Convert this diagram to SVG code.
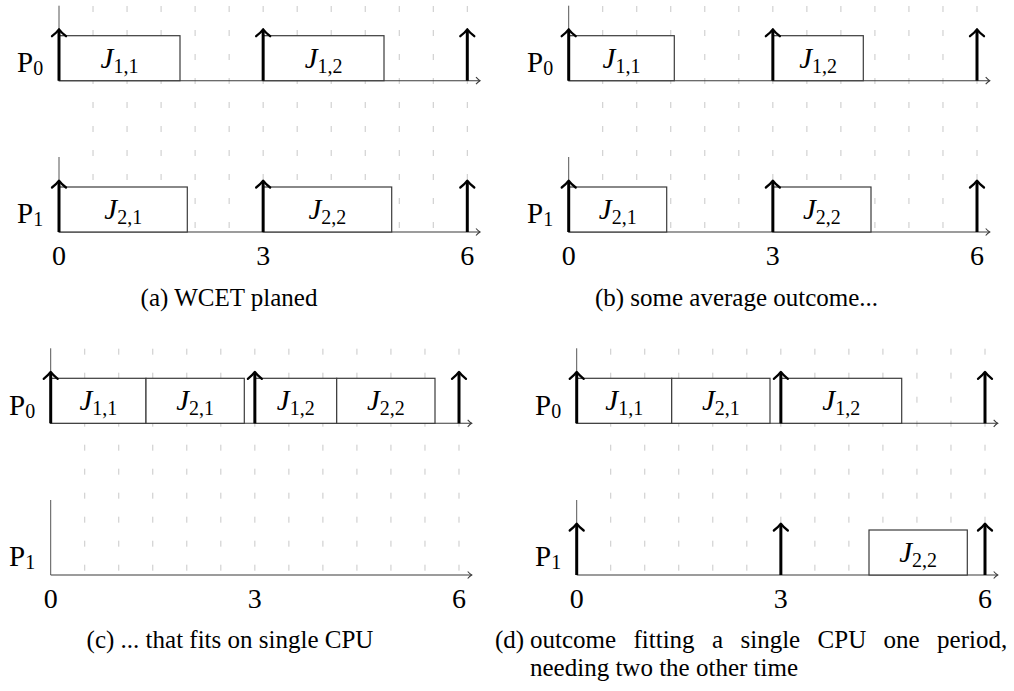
<svg xmlns="http://www.w3.org/2000/svg" xmlns:xlink="http://www.w3.org/1999/xlink" width="1014" height="691" viewBox="0 0 1014 691">
<style>
.grid{fill:none;stroke:#c8c8c8;stroke-width:1;stroke-dasharray:6 18}
.axis{fill:none;stroke:#3a3a3a;stroke-width:1.1}
.yaxis{fill:none;stroke:#555;stroke-width:1}
.job{fill:#fff;stroke:#3a3a3a;stroke-width:1.2}
.shaft{fill:none;stroke:#000;stroke-width:3}
.head{fill:none;stroke:#000;stroke-width:2.3;stroke-linecap:round;stroke-linejoin:round}
.lbl{font-family:"Liberation Serif",serif;font-size:29px;fill:#000}
.jl{font-family:"Liberation Serif",serif;font-size:29px;fill:#000;text-anchor:middle}
.sub{font-size:20px;font-style:normal}
.num{font-family:"Liberation Serif",serif;font-size:28px;fill:#000;text-anchor:middle}
.cap{font-family:"Liberation Serif",serif;font-size:25px;fill:#000}
</style>
<defs>
<path id="grid" class="grid" d="M34.03 0V226M68.05 0V226M102.08 0V226M136.1 0V226M170.13 0V226M204.15 0V226M238.18 0V226M272.2 0V226M306.23 0V226M340.25 0V226M374.28 0V226M408.3 0V226"/>
<g id="ax">
<path class="yaxis" d="M0 0V-75"/>
<path class="axis" d="M0 0H421"/>
<path class="axis" d="M417 -3.5Q419.5 -0.8 421 0Q419.5 0.8 417 3.5"/>
</g>
<g id="rel">
<path class="shaft" d="M0 0V-50"/>
<path class="head" d="M-7 -44.5Q-2 -48.5 0 -51.4Q2 -48.5 7 -44.5"/>
</g>
</defs>

<g id="grids">
<use xlink:href="#grid" x="59" y="6"/>
<use xlink:href="#grid" x="568.7" y="6"/>
<use xlink:href="#grid" x="50.7" y="348.7"/>
<use xlink:href="#grid" x="576.7" y="348.7"/>
</g>

<g id="axes">
<use xlink:href="#ax" x="59" y="80.7"/>
<use xlink:href="#ax" x="59" y="232"/>
<use xlink:href="#ax" x="568.7" y="80.7"/>
<use xlink:href="#ax" x="568.7" y="232"/>
<use xlink:href="#ax" x="50.7" y="423.3"/>
<use xlink:href="#ax" x="50.7" y="575"/>
<use xlink:href="#ax" x="576.7" y="423.3"/>
<use xlink:href="#ax" x="576.7" y="575"/>
</g>

<g id="panel-a">
<text class="lbl" x="17" y="72">P<tspan class="sub" dy="3">0</tspan></text>
<text class="lbl" x="17" y="223.3">P<tspan class="sub" dy="3">1</tspan></text>
<g id="a-J11"><rect class="job" x="59" y="35.7" width="121" height="45"/><text class="jl" x="119.5" y="67.7"><tspan font-style="italic">J</tspan><tspan class="sub" dy="5">1,1</tspan></text></g>
<g id="a-J12"><rect class="job" x="263.15" y="35.7" width="120.85" height="45"/><text class="jl" x="323.6" y="67.7"><tspan font-style="italic">J</tspan><tspan class="sub" dy="5">1,2</tspan></text></g>
<g id="a-J21"><rect class="job" x="59" y="187" width="128.3" height="45"/><text class="jl" x="123.2" y="219"><tspan font-style="italic">J</tspan><tspan class="sub" dy="5">2,1</tspan></text></g>
<g id="a-J22"><rect class="job" x="263.15" y="187" width="128.55" height="45"/><text class="jl" x="327.4" y="219"><tspan font-style="italic">J</tspan><tspan class="sub" dy="5">2,2</tspan></text></g>
<text class="num" x="59" y="265">0</text>
<text class="num" x="263.15" y="265">3</text>
<text class="num" x="467.3" y="265">6</text>
<text class="cap" x="229" y="306" text-anchor="middle">(a) WCET planed</text>
</g>

<g id="panel-b">
<text class="lbl" x="527" y="72">P<tspan class="sub" dy="3">0</tspan></text>
<text class="lbl" x="527" y="223.3">P<tspan class="sub" dy="3">1</tspan></text>
<g id="b-J11"><rect class="job" x="568.7" y="35.7" width="105.6" height="45"/><text class="jl" x="621.5" y="67.7"><tspan font-style="italic">J</tspan><tspan class="sub" dy="5">1,1</tspan></text></g>
<g id="b-J12"><rect class="job" x="772.85" y="35.7" width="90.45" height="45"/><text class="jl" x="818.1" y="67.7"><tspan font-style="italic">J</tspan><tspan class="sub" dy="5">1,2</tspan></text></g>
<g id="b-J21"><rect class="job" x="568.7" y="187" width="98" height="45"/><text class="jl" x="617.7" y="219"><tspan font-style="italic">J</tspan><tspan class="sub" dy="5">2,1</tspan></text></g>
<g id="b-J22"><rect class="job" x="772.85" y="187" width="98.15" height="45"/><text class="jl" x="821.9" y="219"><tspan font-style="italic">J</tspan><tspan class="sub" dy="5">2,2</tspan></text></g>
<text class="num" x="568.7" y="265">0</text>
<text class="num" x="772.85" y="265">3</text>
<text class="num" x="977" y="265">6</text>
<text class="cap" x="736.5" y="306" text-anchor="middle">(b) some average outcome...</text>
</g>

<g id="panel-c">
<text class="lbl" x="9" y="414.6">P<tspan class="sub" dy="3">0</tspan></text>
<text class="lbl" x="9" y="566.3">P<tspan class="sub" dy="3">1</tspan></text>
<g id="c-J11"><rect class="job" x="50.7" y="378.3" width="95.3" height="45"/><text class="jl" x="98.35" y="410.3"><tspan font-style="italic">J</tspan><tspan class="sub" dy="5">1,1</tspan></text></g>
<g id="c-J21"><rect class="job" x="146" y="378.3" width="98.3" height="45"/><text class="jl" x="195.15" y="410.3"><tspan font-style="italic">J</tspan><tspan class="sub" dy="5">2,1</tspan></text></g>
<g id="c-J12"><rect class="job" x="254.85" y="378.3" width="81.85" height="45"/><text class="jl" x="295.8" y="410.3"><tspan font-style="italic">J</tspan><tspan class="sub" dy="5">1,2</tspan></text></g>
<g id="c-J22"><rect class="job" x="336.7" y="378.3" width="98.3" height="45"/><text class="jl" x="385.85" y="410.3"><tspan font-style="italic">J</tspan><tspan class="sub" dy="5">2,2</tspan></text></g>
<text class="num" x="50.7" y="607.7">0</text>
<text class="num" x="254.85" y="607.7">3</text>
<text class="num" x="459" y="607.7">6</text>
<text class="cap" x="230" y="647.5" text-anchor="middle">(c) ... that fits on single CPU</text>
</g>

<g id="panel-d">
<text class="lbl" x="535" y="414.6">P<tspan class="sub" dy="3">0</tspan></text>
<text class="lbl" x="535" y="566.3">P<tspan class="sub" dy="3">1</tspan></text>
<g id="d-J11"><rect class="job" x="576.7" y="378.3" width="95" height="45"/><text class="jl" x="624.2" y="410.3"><tspan font-style="italic">J</tspan><tspan class="sub" dy="5">1,1</tspan></text></g>
<g id="d-J21"><rect class="job" x="671.7" y="378.3" width="98.3" height="45"/><text class="jl" x="720.85" y="410.3"><tspan font-style="italic">J</tspan><tspan class="sub" dy="5">2,1</tspan></text></g>
<g id="d-J12"><rect class="job" x="780.85" y="378.3" width="120.85" height="45"/><text class="jl" x="841.3" y="410.3"><tspan font-style="italic">J</tspan><tspan class="sub" dy="5">1,2</tspan></text></g>
<g id="d-J22"><rect class="job" x="869" y="530" width="98.3" height="45"/><text class="jl" x="918.15" y="562"><tspan font-style="italic">J</tspan><tspan class="sub" dy="5">2,2</tspan></text></g>
<text class="num" x="576.7" y="607.7">0</text>
<text class="num" x="780.85" y="607.7">3</text>
<text class="num" x="985" y="607.7">6</text>
<text class="cap" y="647.5"><tspan x="495">(d)</tspan><tspan x="530">outcome</tspan><tspan x="633.5">fitting</tspan><tspan x="712">a</tspan><tspan x="740.5">single</tspan><tspan x="817.6">CPU</tspan><tspan x="883.6">one</tspan><tspan x="937.1">period,</tspan></text>
<text class="cap" x="530" y="675.5">needing two the other time</text>
</g>

<g id="connectors">
<use xlink:href="#rel" x="59" y="80.7"/>
<use xlink:href="#rel" x="263.15" y="80.7"/>
<use xlink:href="#rel" x="467.3" y="80.7"/>
<use xlink:href="#rel" x="59" y="232"/>
<use xlink:href="#rel" x="263.15" y="232"/>
<use xlink:href="#rel" x="467.3" y="232"/>
<use xlink:href="#rel" x="568.7" y="80.7"/>
<use xlink:href="#rel" x="772.85" y="80.7"/>
<use xlink:href="#rel" x="977" y="80.7"/>
<use xlink:href="#rel" x="568.7" y="232"/>
<use xlink:href="#rel" x="772.85" y="232"/>
<use xlink:href="#rel" x="977" y="232"/>
<use xlink:href="#rel" x="50.7" y="423.3"/>
<use xlink:href="#rel" x="254.85" y="423.3"/>
<use xlink:href="#rel" x="459" y="423.3"/>
<use xlink:href="#rel" x="576.7" y="423.3"/>
<use xlink:href="#rel" x="780.85" y="423.3"/>
<use xlink:href="#rel" x="985" y="423.3"/>
<use xlink:href="#rel" x="576.7" y="575"/>
<use xlink:href="#rel" x="780.85" y="575"/>
<use xlink:href="#rel" x="985" y="575"/>
</g>
</svg>
